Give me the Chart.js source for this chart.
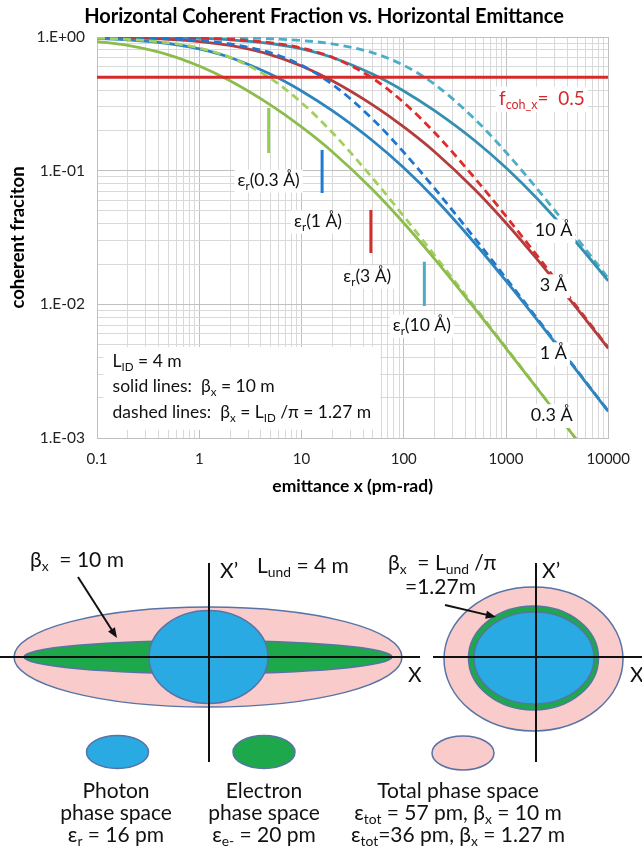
<!DOCTYPE html>
<html>
<head>
<meta charset="utf-8">
<script src="https://cdn.jsdelivr.net/npm/chart.js@4.4.1/dist/chart.umd.min.js"></script>
<style>
  html, body { margin: 0; padding: 0; background: #fff; }
  canvas { display: block; }
</style>
</head>
<body>
<canvas id="fractionChart" width="642" height="505"></canvas>
<canvas id="phaseChart" width="642" height="341"></canvas>
<script>
const FONT = 'Lato, "Open Sans", "DejaVu Sans", sans-serif';

// emittance x (pm-rad) sample points
const emittance = [0.1, 0.2, 0.5, 1, 2, 5, 10, 20, 50, 100, 200, 500, 1000, 2000, 5000, 10000];

// solid lines, beta_x = 10 m
const solid03 = [0.925, 0.865, 0.736, 0.606, 0.470, 0.309, 0.2125, 0.1386, 0.0717, 0.0406, 0.02187, 0.0092, 0.00469, 0.00237, 0.000951, 0.000477];
const solid1 = [0.976, 0.953, 0.894, 0.815, 0.703, 0.526, 0.395, 0.281, 0.1667, 0.105, 0.0621, 0.0284, 0.01499, 0.00772, 0.00314, 0.00158];
const solid3 = [0.992, 0.984, 0.961, 0.925, 0.865, 0.736, 0.606, 0.470, 0.309, 0.2125, 0.1386, 0.0717, 0.0406, 0.02187, 0.0092, 0.00469];
const solid10 = [0.9975, 0.995, 0.988, 0.976, 0.953, 0.894, 0.815, 0.703, 0.526, 0.395, 0.281, 0.1667, 0.105, 0.0621, 0.0284, 0.01499];

// dashed lines, beta_x = L/pi = 1.27 m
const dashed03 = [0.980, 0.960, 0.905, 0.827, 0.705, 0.489, 0.323, 0.193, 0.0872, 0.0456, 0.0233, 0.00946, 0.00475, 0.00238, 0.000954, 0.000477];
const dashed1 = [0.994, 0.988, 0.970, 0.941, 0.888, 0.761, 0.614, 0.443, 0.2415, 0.1373, 0.0737, 0.0309, 0.01567, 0.0079, 0.00317, 0.00159];
const dashed3 = [0.998, 0.996, 0.990, 0.980, 0.960, 0.905, 0.827, 0.705, 0.489, 0.323, 0.193, 0.0872, 0.0456, 0.0233, 0.00946, 0.00475];
const dashed10 = [0.9994, 0.9987, 0.997, 0.994, 0.988, 0.970, 0.941, 0.888, 0.761, 0.614, 0.443, 0.2415, 0.1373, 0.0737, 0.0309, 0.01567];

// f_coh_x = 0.5 level
const halfLevelX = [0.1, 10000];
const halfLevelY = [0.5, 0.5];

// photon emittance markers eps_r (0.3, 1, 3, 10 A)
const markerX = [4.77, 15.9, 47.7, 159];
const markerTop = [0.294, 0.143, 0.0508, 0.0208];
const markerBottom = [0.1357, 0.0681, 0.0242, 0.00973];

const xTickValues = [0.1, 1, 10, 100, 1000, 10000];
const xTickLabels = ['0.1', '1', '10', '100', '1000', '10000'];
const yTickValues = [0.001, 0.01, 0.1, 1];
const yTickLabels = ['1.E-03', '1.E-02', '1.E-01', '1.E+00'];

function decadeGrid(majors) {
  const out = [];
  majors.forEach((m, i) => {
    out.push(m);
    if (i < majors.length - 1) {
      for (let k = 2; k < 10; k++) out.push(m * k);
    }
  });
  return out;
}

function majorIndex(majors, v) {
  return majors.findIndex(m => Math.abs(m - v) / m < 1e-6);
}

function richWidth(ctx, parts, size, weight) {
  let w = 0;
  for (const [t, sub] of parts) {
    ctx.font = `${weight} ${sub ? size * 0.66 : size}px ${FONT}`;
    w += ctx.measureText(t).width;
  }
  return w;
}

// text with subscripts, y is the baseline
function drawRich(ctx, parts, x, y, opt) {
  const size = opt.size;
  const weight = opt.weight || 'normal';
  const w = richWidth(ctx, parts, size, weight);
  let left = opt.align === 'center' ? x - w / 2 : x;
  if (opt.bg) {
    ctx.fillStyle = '#fff';
    ctx.fillRect(left - 3, y - size * 0.95, w + 6, size * 1.32);
  }
  ctx.fillStyle = opt.color || '#000';
  ctx.textAlign = 'left';
  ctx.textBaseline = 'alphabetic';
  for (const [t, sub] of parts) {
    ctx.font = `${weight} ${sub ? size * 0.66 : size}px ${FONT}`;
    ctx.fillText(t, left, sub ? y + size * 0.2 : y);
    left += ctx.measureText(t).width;
  }
}

const chartNotes = [
  { x: 4.77, y: 0.0852, parts: [['ε'], ['r', 1], ['(0.3 Å)']] },
  { x: 14.5, y: 0.0421, parts: [['ε'], ['r', 1], ['(1 Å)']] },
  { x: 44, y: 0.0163, parts: [['ε'], ['r', 1], ['(3 Å)']] },
  { x: 150, y: 0.00702, parts: [['ε'], ['r', 1], ['(10 Å)']] },
  { x: 2924, y: 0.036, parts: [['10 Å']], size: 18 },
  { x: 2900, y: 0.01396, parts: [['3 Å']], size: 18 },
  { x: 2900, y: 0.00433, parts: [['1 Å']], size: 18 },
  { x: 2800, y: 0.00149, parts: [['0.3 Å']], size: 18 },
  { x: 2245, y: 0.35, parts: [['f'], ['coh_x', 1], ['=  0.5']], size: 19, color: '#d8282b' }
];

const infoX = 0.142;
const infoLines = [
  { y: 0.00377, parts: [['L'], ['ID', 1], [' = 4 m']] },
  { y: 0.00245, parts: [['solid lines:  β'], ['x', 1], [' = 10 m']] },
  { y: 0.00157, parts: [['dashed lines:  β'], ['x', 1], [' = L'], ['ID', 1], [' /π = 1.27 m']] }
];

const notesPlugin = {
  id: 'notes',
  afterDatasetsDraw(chart) {
    const { ctx, scales: { x, y } } = chart;
    ctx.save();
    // info box
    const size = 17.5;
    const lx = x.getPixelForValue(infoX);
    let maxW = 0;
    infoLines.forEach(l => { maxW = Math.max(maxW, richWidth(ctx, l.parts, size, 'normal')); });
    const top = y.getPixelForValue(infoLines[0].y) - 14;
    const bottom = y.getPixelForValue(infoLines[infoLines.length - 1].y) + 18;
    ctx.fillStyle = '#fff';
    ctx.fillRect(lx - 9, top, maxW + 18, bottom - top);
    infoLines.forEach(l => {
      drawRich(ctx, l.parts, lx, y.getPixelForValue(l.y) + size * 0.36, { size, color: '#111' });
    });
    chartNotes.forEach(n => {
      const s = n.size || 17.5;
      drawRich(ctx, n.parts, x.getPixelForValue(n.x), y.getPixelForValue(n.y) + s * 0.36,
        { size: s, align: 'center', bg: true, color: n.color || '#111' });
    });
    ctx.restore();
  }
};

function curve(values, color, dashed) {
  return {
    data: emittance.map((e, i) => ({ x: e, y: values[i] })),
    borderColor: color,
    borderWidth: 2.8,
    borderDash: dashed ? [8, 5] : [],
    pointRadius: 0,
    cubicInterpolationMode: 'monotone',
    fill: false
  };
}

const markerColors = ['#92d050', '#1f7bd0', '#d62c2c', '#4aacc6'];

const datasets = [
  {
    data: halfLevelX.map((v, i) => ({ x: v, y: halfLevelY[i] })),
    borderColor: '#d42a2a', borderWidth: 3, pointRadius: 0
  },
  ...markerX.map((m, i) => ({
    data: [{ x: m, y: markerTop[i] }, { x: m, y: markerBottom[i] }],
    borderColor: markerColors[i], borderWidth: 3, pointRadius: 0
  })),
  curve(solid03, '#8cbd4c', false),
  curve(dashed03, '#a3d05c', true),
  curve(solid1, '#2c85c0', false),
  curve(dashed1, '#1f76d2', true),
  curve(solid3, '#b53c3c', false),
  curve(dashed3, '#e02b2b', true),
  curve(solid10, '#3590b0', false),
  curve(dashed10, '#4cadc9', true)
];

const gridColor = majors => ctx =>
  (ctx.tick && majorIndex(majors, ctx.tick.value) >= 0) ? '#c0c0c0' : '#d9d9d9';

new Chart(document.getElementById('fractionChart'), {
  type: 'line',
  data: { datasets },
  options: {
    responsive: false,
    animation: false,
    events: [],
    layout: { padding: { left: 26, right: 20, top: 0, bottom: 0 } },
    plugins: {
      legend: { display: false },
      tooltip: { enabled: false },
      title: {
        display: true,
        text: 'Horizontal Coherent Fraction vs. Horizontal Emittance',
        color: '#000',
        font: { family: FONT, size: 20, weight: 'bold' },
        padding: { top: 5, bottom: 8 }
      }
    },
    scales: {
      x: {
        type: 'logarithmic',
        min: 0.1,
        max: 10000,
        afterBuildTicks: s => { s.ticks = decadeGrid(xTickValues).map(v => ({ value: v })); },
        afterFit: s => { s.height = 67; },
        grid: { color: gridColor(xTickValues), drawTicks: false },
        border: { color: '#c0c0c0' },
        ticks: {
          autoSkip: false,
          maxRotation: 0,
          padding: 12,
          color: '#222',
          font: { family: FONT, size: 15 },
          callback: v => { const i = majorIndex(xTickValues, v); return i < 0 ? '' : xTickLabels[i]; }
        },
        title: {
          display: true,
          text: 'emittance x (pm-rad)',
          color: '#000',
          font: { family: FONT, size: 17.5, weight: 'bold' },
          padding: { top: 0, bottom: 8 }
        }
      },
      y: {
        type: 'logarithmic',
        min: 0.001,
        max: 1,
        afterBuildTicks: s => { s.ticks = decadeGrid(yTickValues).map(v => ({ value: v })); },
        afterFit: s => { s.width = 71; },
        grid: { color: gridColor(yTickValues), drawTicks: false },
        border: { color: '#c0c0c0' },
        ticks: {
          autoSkip: false,
          padding: 12,
          color: '#222',
          font: { family: FONT, size: 15.5 },
          callback: v => { const i = majorIndex(yTickValues, v); return i < 0 ? '' : yTickLabels[i]; }
        },
        title: {
          display: true,
          text: 'coherent fraciton',
          color: '#000',
          font: { family: FONT, size: 18.5, weight: 'bold' },
          padding: { top: -19, bottom: 0 }
        }
      }
    }
  },
  plugins: [notesPlugin]
});

// ---- phase space sketch (units of the sketch canvas, y downwards) ----
const axisFromX = [0, 209, 433, 536];
const axisFromY = [152, 58, 152, 58];
const axisToX = [420, 209, 642, 536];
const axisToY = [152, 257, 152, 257];

const ellipseKind = ['total', 'electron', 'photon', 'total', 'electron', 'photon', 'photon', 'electron', 'total'];
const ellipseCx = [208, 208, 208.5, 533.5, 533.5, 534, 117.5, 264, 463];
const ellipseCy = [152, 152, 152, 154, 153, 153, 247, 247, 248];
const ellipseRx = [194, 184, 59.5, 89.5, 65, 60, 31, 31, 31];
const ellipseRy = [50, 16.5, 46.5, 72, 52, 46, 16.5, 16.5, 17];

const arrowFromX = [78, 445];
const arrowFromY = [72, 100];
const arrowToX = [117, 496];
const arrowToY = [133, 112];

const kindFill = { total: '#f9cbcb', electron: '#1ea84c', photon: '#2aaae2' };

const sketchTexts = [
  { x: 30, y: 62, parts: [['β'], ['x', 1], ['  = 10 m']] },
  { x: 257, y: 68, parts: [['L'], ['und', 1], [' = 4 m']] },
  { x: 220, y: 73, parts: [['X’']] },
  { x: 408, y: 177, parts: [['X']] },
  { x: 388, y: 65, parts: [['β'], ['x', 1], ['  = L'], ['und', 1], [' /π']] },
  { x: 405, y: 89, parts: [['=1.27m']] },
  { x: 542, y: 73, parts: [['X’']] },
  { x: 630, y: 177, parts: [['X']] },
  { x: 116, y: 293, parts: [['Photon']], align: 'center' },
  { x: 116, y: 315, parts: [['phase space']], align: 'center' },
  { x: 116, y: 337, parts: [['ε'], ['r', 1], [' = 16 pm']], align: 'center' },
  { x: 264, y: 293, parts: [['Electron']], align: 'center' },
  { x: 264, y: 315, parts: [['phase space']], align: 'center' },
  { x: 264, y: 337, parts: [['ε'], ['e-', 1], [' = 20 pm']], align: 'center' },
  { x: 458, y: 293, parts: [['Total phase space']], align: 'center' },
  { x: 458, y: 315, parts: [['ε'], ['tot', 1], [' = 57 pm, β'], ['x', 1], [' = 10 m']], align: 'center' },
  { x: 458, y: 337, parts: [['ε'], ['tot', 1], ['=36 pm, β'], ['x', 1], [' = 1.27 m']], align: 'center' }
];

const sketchPlugin = {
  id: 'sketch',
  beforeDatasetsDraw(chart) {
    const { ctx, scales: { x, y } } = chart;
    ctx.save();
    ellipseKind.forEach((k, i) => {
      const cx = x.getPixelForValue(ellipseCx[i]);
      const cy = y.getPixelForValue(ellipseCy[i]);
      const rx = Math.abs(x.getPixelForValue(ellipseCx[i] + ellipseRx[i]) - cx);
      const ry = Math.abs(y.getPixelForValue(ellipseCy[i] + ellipseRy[i]) - cy);
      ctx.beginPath();
      ctx.ellipse(cx, cy, rx, ry, 0, 0, Math.PI * 2);
      ctx.fillStyle = kindFill[k];
      ctx.fill();
      ctx.lineWidth = 1.5;
      ctx.strokeStyle = '#5873a6';
      ctx.stroke();
    });
    ctx.restore();
  },
  afterDatasetsDraw(chart) {
    const { ctx, scales: { x, y } } = chart;
    ctx.save();
    arrowFromX.forEach((ax, i) => {
      const x0 = x.getPixelForValue(ax), y0 = y.getPixelForValue(arrowFromY[i]);
      const x1 = x.getPixelForValue(arrowToX[i]), y1 = y.getPixelForValue(arrowToY[i]);
      const a = Math.atan2(y1 - y0, x1 - x0);
      ctx.strokeStyle = '#111';
      ctx.fillStyle = '#111';
      ctx.lineWidth = 2;
      ctx.beginPath();
      ctx.moveTo(x0, y0);
      ctx.lineTo(x1 - 6 * Math.cos(a), y1 - 6 * Math.sin(a));
      ctx.stroke();
      ctx.beginPath();
      ctx.moveTo(x1, y1);
      ctx.lineTo(x1 - 11 * Math.cos(a - 0.38), y1 - 11 * Math.sin(a - 0.38));
      ctx.lineTo(x1 - 11 * Math.cos(a + 0.38), y1 - 11 * Math.sin(a + 0.38));
      ctx.closePath();
      ctx.fill();
    });
    sketchTexts.forEach(t => {
      drawRich(ctx, t.parts, x.getPixelForValue(t.x), y.getPixelForValue(t.y),
        { size: 21, align: t.align || 'left', color: '#111' });
    });
    ctx.restore();
  }
};

new Chart(document.getElementById('phaseChart'), {
  type: 'scatter',
  data: {
    datasets: axisFromX.map((ax, i) => ({
      data: [{ x: ax, y: axisFromY[i] }, { x: axisToX[i], y: axisToY[i] }],
      showLine: true,
      borderColor: '#111',
      borderWidth: 2,
      pointRadius: 0
    }))
  },
  options: {
    responsive: false,
    animation: false,
    events: [],
    layout: { padding: 0 },
    plugins: { legend: { display: false }, tooltip: { enabled: false } },
    scales: {
      x: { type: 'linear', min: 0, max: 642, display: false },
      y: { type: 'linear', min: 0, max: 341, reverse: true, display: false }
    }
  },
  plugins: [sketchPlugin]
});
</script>
</body>
</html>
